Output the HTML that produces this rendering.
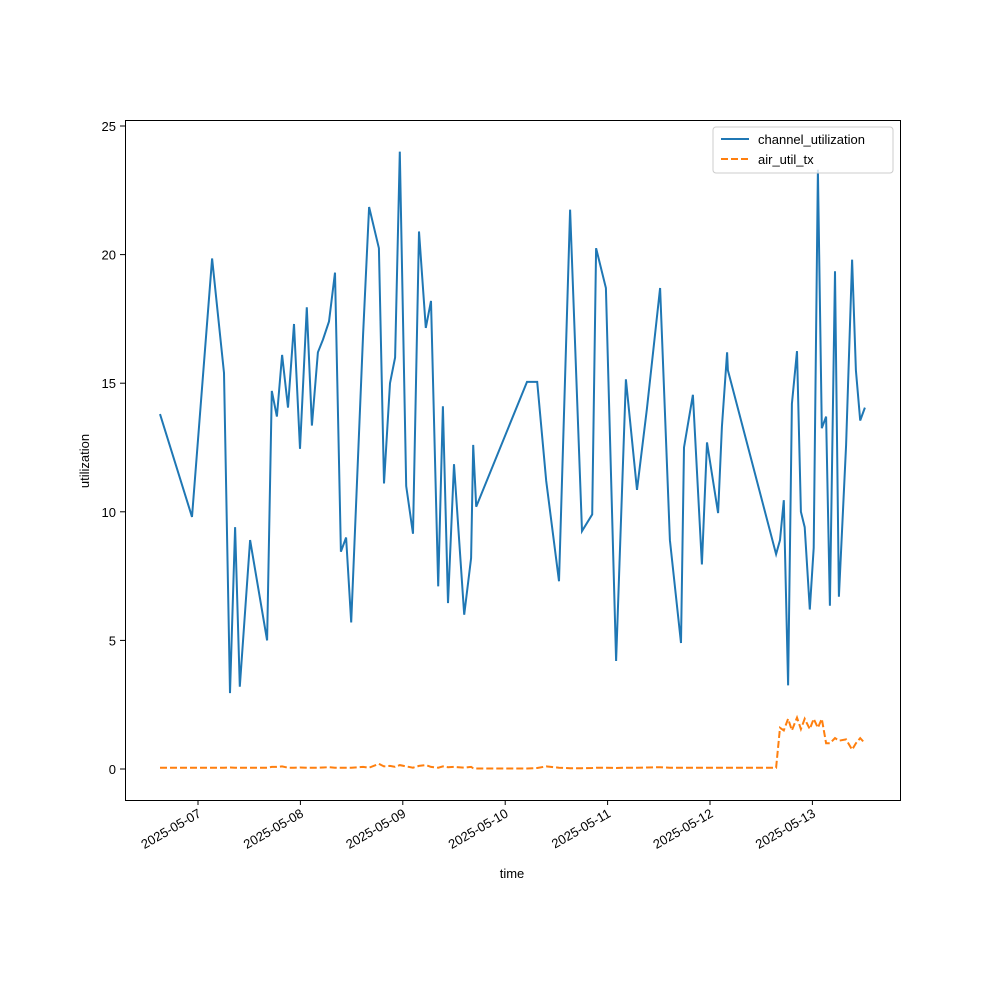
<!DOCTYPE html>
<html><head><meta charset="utf-8"><style>
body{margin:0;background:#fff}
svg text{font-family:"Liberation Sans","DejaVu Sans",sans-serif;font-size:13px;fill:#000}
</style></head><body>
<svg id="chart" width="1000" height="1000" viewBox="0 0 1000 1000" xmlns="http://www.w3.org/2000/svg">
<rect width="1000" height="1000" fill="#fff"/>
<g id="plot"></g>
<rect x="125.5" y="120.5" width="775" height="680" fill="none" stroke="#000" stroke-width="1"/>
<g id="xticks"></g><g id="yticks"></g>
<text x="512" y="878" text-anchor="middle">time</text>
<text transform="translate(89,461) rotate(-90)" text-anchor="middle">utilization</text>
<g>
<rect x="713" y="127" width="180" height="46" rx="3" fill="#fff" fill-opacity="0.8" stroke="#ccc"/>
<line x1="721" y1="139" x2="749" y2="139" stroke="#1f77b4" stroke-width="2"/>
<text x="758" y="144">channel_utilization</text>
<line x1="721" y1="159" x2="749" y2="159" stroke="#ff7f0e" stroke-width="2" stroke-dasharray="7,3"/>
<text x="758" y="164">air_util_tx</text>
</g>
</svg>
<script>
// hours since 2025-05-07 00:00
const hours=[-8.9,-1.4,3.3,6.1,7.5,8.7,9.8,12.2,16.2,17.3,18.5,19.7,21.1,22.5,23.9,25.5,26.7,28.1,29.3,30.7,32.1,33.5,34.7,35.9,38.7,40.1,42.4,43.6,45.0,46.2,47.3,48.8,50.4,51.8,53.4,54.6,56.3,57.4,58.6,60.0,62.4,64.0,64.5,65.2,77.1,79.5,81.6,84.6,87.2,90.0,92.4,93.3,95.6,98.0,100.3,102.9,105.2,108.3,110.6,113.2,113.9,116.0,118.1,119.3,121.9,122.8,124.0,124.2,135.5,136.4,137.3,138.3,139.2,140.4,141.3,142.2,143.4,144.3,145.3,146.2,147.2,148.1,149.3,150.2,151.9,153.3,154.2,155.2,156.3];
const channelUtil=[13.8,9.8,19.85,15.4,2.95,9.4,3.2,8.9,5.0,14.7,13.7,16.1,14.05,17.3,12.45,17.95,13.35,16.2,16.7,17.4,19.3,8.45,9.0,5.7,16.9,21.85,20.25,11.1,15.0,16.0,24.0,11.0,9.15,20.9,17.15,18.2,7.1,14.1,6.45,11.85,6.0,8.2,12.6,10.2,15.05,15.05,11.2,7.3,21.75,9.25,9.9,20.25,18.7,4.2,15.15,10.85,14.0,18.7,8.9,4.9,12.5,14.55,7.95,12.7,9.95,13.3,16.2,15.5,8.35,8.9,10.45,3.25,14.2,16.25,10.0,9.4,6.2,8.6,23.3,13.25,13.7,6.35,19.35,6.7,12.6,19.8,15.5,13.55,14.05];
const airUtilTx=[0.05,0.05,0.05,0.05,0.06,0.05,0.05,0.05,0.05,0.08,0.08,0.1,0.05,0.05,0.06,0.05,0.05,0.05,0.06,0.07,0.05,0.05,0.05,0.05,0.08,0.05,0.2,0.1,0.12,0.08,0.15,0.1,0.05,0.12,0.15,0.08,0.05,0.1,0.07,0.08,0.05,0.08,0.03,0.02,0.02,0.04,0.1,0.05,0.03,0.03,0.04,0.05,0.05,0.04,0.05,0.05,0.06,0.07,0.05,0.05,0.05,0.05,0.05,0.05,0.05,0.05,0.05,0.05,0.05,1.6,1.5,1.95,1.5,2.0,1.55,1.95,1.55,1.95,1.6,1.95,1.0,1.0,1.2,1.1,1.15,0.75,1.0,1.2,1.0];
const dayLabels=["2025-05-07","2025-05-08","2025-05-09","2025-05-10","2025-05-11","2025-05-12","2025-05-13"];
const yTicks=[0,5,10,15,20,25];
const NS="http://www.w3.org/2000/svg";
const xScale=h=>198+h*(102.4/24);
const yScale=v=>769-v*25.72;
function poly(vals,color,dash,name){
  const p=document.createElementNS(NS,"polyline");
  p.setAttribute("points",hours.map((h,i)=>xScale(h).toFixed(1)+","+yScale(vals[i]).toFixed(1)).join(" "));
  p.setAttribute("fill","none");p.setAttribute("stroke",color);p.setAttribute("stroke-width","2");
  if(dash)p.setAttribute("stroke-dasharray",dash);
  
  
  document.getElementById("plot").appendChild(p);
}
poly(channelUtil,"#1f77b4",null,"channel-utilization-line");
poly(airUtilTx,"#ff7f0e","7,3","air-util-tx-line");
const xt=document.getElementById("xticks");
dayLabels.forEach((d,i)=>{
  const x=xScale(i*24);
  const l=document.createElementNS(NS,"line");
  l.setAttribute("x1",x);l.setAttribute("x2",x);l.setAttribute("y1",800);l.setAttribute("y2",805);l.setAttribute("stroke","#000");
  
  
  xt.appendChild(l);
  const t=document.createElementNS(NS,"text");
  t.setAttribute("transform",`translate(${x+4},${816}) rotate(-30)`);
  t.setAttribute("text-anchor","end");t.textContent=d;
  
  
  xt.appendChild(t);
});
const yt=document.getElementById("yticks");
yTicks.forEach(v=>{
  const y=yScale(v);
  const l=document.createElementNS(NS,"line");
  l.setAttribute("x1",120);l.setAttribute("x2",125);l.setAttribute("y1",y);l.setAttribute("y2",y);l.setAttribute("stroke","#000");
  
  
  yt.appendChild(l);
  const t=document.createElementNS(NS,"text");
  t.setAttribute("x",116);t.setAttribute("y",y+5);t.setAttribute("text-anchor","end");t.textContent=v;
  
  
  yt.appendChild(t);
});
</script>
</body></html>
